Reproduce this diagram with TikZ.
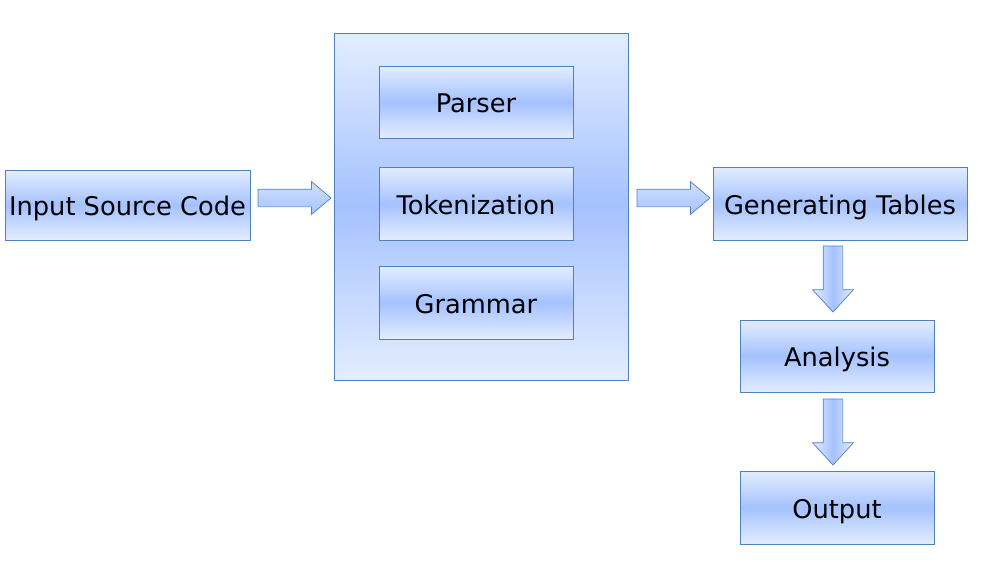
\documentclass[tikz,border=0pt]{standalone}
\usepackage{fontspec}
\setmainfont{DejaVu Sans}
\usetikzlibrary{shapes.arrows}
\definecolor{lite}{HTML}{E3EDFF}
\definecolor{mid}{HTML}{A5C2FF}
\definecolor{edge}{HTML}{4F81BD}
\tikzset{
  box/.style={draw=edge, line width=0.8pt, rectangle, inner sep=0pt, outer sep=0pt,
    top color=lite, bottom color=lite, middle color=mid,
    text height=23pt, text depth=2pt,
    font=\fontsize{25.7}{30}\selectfont},
  harrow/.style={single arrow, draw=edge, line width=0.7pt, inner sep=0pt, outer sep=0pt,
    anchor=tail,
    top color=lite!70!mid, bottom color=mid,
    text height=17pt, text depth=0pt,
    minimum height=73pt, single arrow head extend=7.5pt,
    single arrow tip angle=80},
  varrow/.style={single arrow, draw=edge, line width=0.7pt, inner sep=0pt, outer sep=0pt,
    rotate=-90, anchor=tail,
    left color=lite, right color=lite, middle color=mid,
    text height=19pt, text depth=0pt,
    minimum height=66pt, single arrow head extend=10.5pt,
    single arrow tip angle=85}
}
\begin{document}
\begin{tikzpicture}[x=1pt,y=-1pt]
\useasboundingbox (0,0) rectangle (988,562);
\node[box, minimum width=245pt, minimum height=70pt] (input) at (127.5,205) {Input Source Code};
\node[box, minimum width=294pt, minimum height=347pt] (cont) at (481,206.5) {};
\node[box, minimum width=194pt, minimum height=72pt] (parser) at (476,102) {Parser};
\node[box, minimum width=194pt, minimum height=73pt] (token) at (476,203.5) {Tokenization};
\node[box, minimum width=194pt, minimum height=73pt] (gram) at (476,302.5) {Grammar};
\node[box, minimum width=254pt, minimum height=73pt] (gen) at (840,203.5) {Generating Tables};
\node[box, minimum width=194pt, minimum height=72pt] (ana) at (837,356) {Analysis};
\node[box, minimum width=194pt, minimum height=73pt] (out) at (837,507.5) {Output};
\node[harrow] (a1) at ([xshift=8pt,yshift=7pt]input.east) {};
\node[harrow] (a2) at ([xshift=9pt,yshift=8.5pt]cont.east) {};
\node[varrow] (a3) at ([xshift=-7pt,yshift=-6pt]gen.south) {};
\node[varrow] (a4) at ([xshift=-4pt,yshift=-7pt]ana.south) {};
\end{tikzpicture}
\end{document}
